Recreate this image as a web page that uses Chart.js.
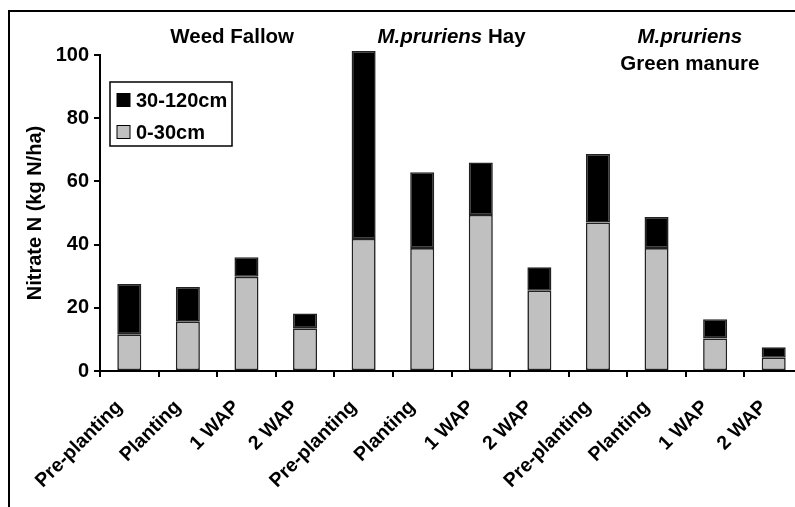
<!DOCTYPE html>
<html><head><meta charset="utf-8">
<script src="https://cdn.jsdelivr.net/npm/chart.js@4.4.1/dist/chart.umd.min.js"></script>
<style>
html,body{margin:0;padding:0;overflow:hidden;background:#fff;width:795px;height:507px;}
#frame{position:absolute;left:8px;top:10px;width:900px;height:600px;border:2px solid #000;}
#wrap{position:absolute;left:0;top:0;width:830px;height:507px;}
</style></head><body>
<div id="frame"></div>
<div id="wrap"><canvas id="c"></canvas></div>
<script>
const categories = ['Pre-planting','Planting','1 WAP','2 WAP','Pre-planting','Planting','1 WAP','2 WAP','Pre-planting','Planting','1 WAP','2 WAP'];
const shallow = [11.6, 15.6, 29.8, 13.5, 41.8, 38.9, 49.4, 25.4, 47.0, 38.9, 10.3, 4.2];   // 0-30cm
const deep    = [15.9, 11.0, 6.2, 4.7, 59.5, 24.0, 16.6, 7.4, 21.7, 9.8, 6.1, 3.3];        // 30-120cm
const seriesLabels = ['0-30cm', '30-120cm'];
const yTicks = [0, 20, 40, 60, 80, 100];
const groupTitles = [
  [[{t:'Weed Fallow', i:false}]],
  [[{t:'M.pruriens', i:true},{t:' Hay', i:false}]],
  [[{t:'M.pruriens', i:true}],[{t:'Green manure', i:false}]]
];
const FONT = "'Liberation Sans', Arial, sans-serif";

const annotPlugin = {
  id: 'annot',
  afterDraw(chart) {
    const ctx = chart.ctx, xs = chart.scales.x, ys = chart.scales.y;
    ctx.save();
    // rotated category labels
    ctx.fillStyle = '#000';
    ctx.font = 'bold 19.5px ' + FONT;
    ctx.textAlign = 'right';
    ctx.textBaseline = 'middle';
    const y0 = ys.getPixelForValue(0);
    chart.data.labels.forEach((lab, i) => {
      const x = xs.getPixelForValue(i);
      ctx.save();
      ctx.translate(x - 10, y0 + 33);
      ctx.rotate(-Math.PI / 4);
      ctx.fillText(lab, 0, 0);
      ctx.restore();
    });
    // group titles
    const offsets = [15, 0, 4];
    ctx.textBaseline = 'middle';
    groupTitles.forEach((lines, g) => {
      const cx = (xs.getPixelForValue(g*4+1) + xs.getPixelForValue(g*4+2)) / 2 + offsets[g];
      lines.forEach((parts, li) => {
        const y = 37 + li * 27;
        let w = 0;
        parts.forEach(p => { ctx.font = (p.i ? 'italic ' : '') + 'bold 20.5px ' + FONT; w += ctx.measureText(p.t).width; });
        let x = cx - w / 2;
        ctx.textAlign = 'left';
        parts.forEach(p => { ctx.font = (p.i ? 'italic ' : '') + 'bold 20.5px ' + FONT; ctx.fillText(p.t, x, y); x += ctx.measureText(p.t).width; });
      });
    });
    // legend
    const ds = chart.data.datasets.slice().reverse();
    const bx = 110, by = 82, bw = 122, bh = 64;
    ctx.fillStyle = '#fff';
    ctx.fillRect(bx, by, bw, bh);
    ctx.strokeStyle = '#000'; ctx.lineWidth = 1.5;
    ctx.strokeRect(bx, by, bw, bh);
    ds.forEach((d, i) => {
      const cy = by + 18 + i * 32;
      ctx.fillStyle = d.backgroundColor;
      ctx.fillRect(117, cy - 6.5, 13, 13);
      ctx.lineWidth = 1; ctx.strokeStyle = '#000';
      ctx.strokeRect(117, cy - 6.5, 13, 13);
      ctx.fillStyle = '#000';
      ctx.font = 'bold 20px ' + FONT;
      ctx.textAlign = 'left';
      ctx.fillText(d.label, 136, cy + 1);
    });
    ctx.restore();
  }
};

new Chart(document.getElementById('c'), {
  type: 'bar',
  data: {
    labels: categories,
    datasets: [
      { label: seriesLabels[0], data: shallow, backgroundColor: '#C0C0C0', borderColor: '#222', borderWidth: 1.6, borderSkipped: false, clip: false },
      { label: seriesLabels[1], data: deep, backgroundColor: '#000000', borderColor: '#222', borderWidth: 1.6, borderSkipped: false, clip: false }
    ]
  },
  options: {
    responsive: true, maintainAspectRatio: false, animation: false,
    layout: { padding: { top: 55, right: 27, left: 0, bottom: 0 } },
    plugins: { legend: { display: false }, tooltip: { enabled: false } },
    datasets: { bar: { categoryPercentage: 1.0, barPercentage: 0.41 } },
    scales: {
      x: {
        stacked: true,
        afterFit(s) { s.height = 136; },
        grid: { offset: true, drawOnChartArea: false, color: '#000', lineWidth: 2, tickLength: 6 },
        border: { color: '#000', width: 2 },
        ticks: { display: false, autoSkip: false }
      },
      y: {
        stacked: true, min: 0, max: 100,
        afterFit(s) { s.width = 100; },
        afterBuildTicks(s) { s.ticks = yTicks.map(v => ({ value: v })); },
        grid: { drawOnChartArea: false, color: '#000', lineWidth: 2, tickLength: 6 },
        border: { color: '#000', width: 2 },
        ticks: { color: '#000', font: { family: FONT, size: 20, weight: 'bold' }, padding: 5 },
        title: { display: true, text: 'Nitrate N (kg N/ha)', color: '#000', font: { family: FONT, size: 20, weight: 'bold' }, padding: { top: 23, bottom: 0 } }
      }
    }
  },
  plugins: [annotPlugin]
});
</script>
</body></html>
